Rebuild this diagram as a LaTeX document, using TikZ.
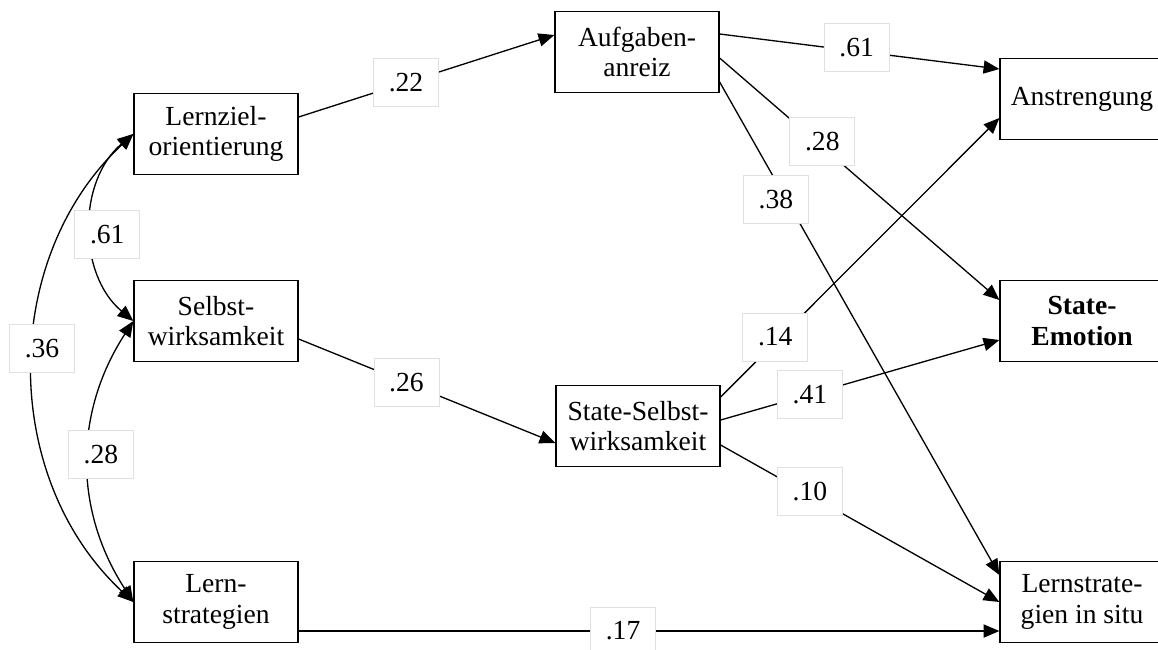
\documentclass[tikz,border=0pt]{standalone}
\usepackage{fontspec}
\setmainfont{Liberation Serif}
\usetikzlibrary{arrows.meta}
\usetikzlibrary{positioning}

\begin{document}
\begin{tikzpicture}[x=0.02cm,y=-0.02cm,
  font=\fontsize{15.7}{17.2}\selectfont,
  var/.style={draw,line width=0.75pt,minimum width=3.28cm,minimum height=1.62cm,inner sep=0pt,align=center},
  lbl/.style={fill=white,draw=black!12,line width=0.4pt,minimum width=1.3cm,minimum height=0.96cm,inner sep=0pt},
  pfeil/.style={line width=0.75pt,-{Triangle[length=9pt,width=7.5pt]}},
  kov/.style={line width=0.75pt,{Triangle[length=9pt,width=7.5pt]}-{Triangle[length=9pt,width=7.5pt]}}]
\clip (0,0) rectangle (1158,649);
\node[var] (lz) at (216,134) {Lernziel-\\orientierung};
\node[var] (sw) at (216,321) {Selbst-\\wirksamkeit};
\node[var] (ls) at (216,602) {Lern-\\strategien};
\node[var] (ar) at (637,52) {Aufgaben-\\anreiz};
\node[var] (ssw) at (638,426) {State-Selbst-\\wirksamkeit};
\node[var] (an) at (1082,99) {Anstrengung};
\node[var] (se) at (1082,321) {\textbf{State-}\\\textbf{Emotion}};
\node[var] (lsi) at (1082,602) {Lernstrate-\\gien in situ};

\draw[kov] (lz.west) to[bend right=50] node[lbl,xshift=9pt,yshift=-4pt] {.61} (sw.west);
\draw[kov] (sw.west) to[bend right=33] node[lbl,xshift=7pt,yshift=4pt] {.28} (ls.west);
\draw[kov] (lz.west) to[bend right=47] node[lbl,xshift=5pt,yshift=11pt] {.36} (ls.west);

\draw[pfeil] (lz.east |- 0,117) -- node[lbl,pos=0.42] {.22} (ar.west |- 0,35);
\draw[pfeil] (sw.east |- 0,339) -- node[lbl,pos=0.42] {.26} (ssw.west |- 0,443);
\draw[pfeil] (ls.east |- 0,631) -- node[lbl,pos=0.463] {.17} (lsi.west |- 0,631);
\draw[pfeil] (ar.east |- 0,34) -- node[lbl,pos=0.49,yshift=2pt] {.61} (an.west |- 0,69);
\draw[pfeil] (ar.east |- 0,58) -- node[lbl,pos=0.367,yshift=3pt] {.28} (se.west |- 0,300);
\draw[pfeil] (ar.east |- 0,82) -- node[lbl,pos=0.239,xshift=-6pt] {.38} (lsi.west |- 0,575);
\draw[pfeil] (ssw.east |- 0,397) -- node[lbl,pos=0.196,yshift=3pt] {.14} (an.west |- 0,118);
\draw[pfeil] (ssw.east |- 0,420) -- node[lbl,pos=0.32] {.41} (se.west |- 0,340);
\draw[pfeil] (ssw.east |- 0,445) -- node[lbl,pos=0.32,yshift=2pt] {.10} (lsi.west |- 0,602);
\end{tikzpicture}
\end{document}
